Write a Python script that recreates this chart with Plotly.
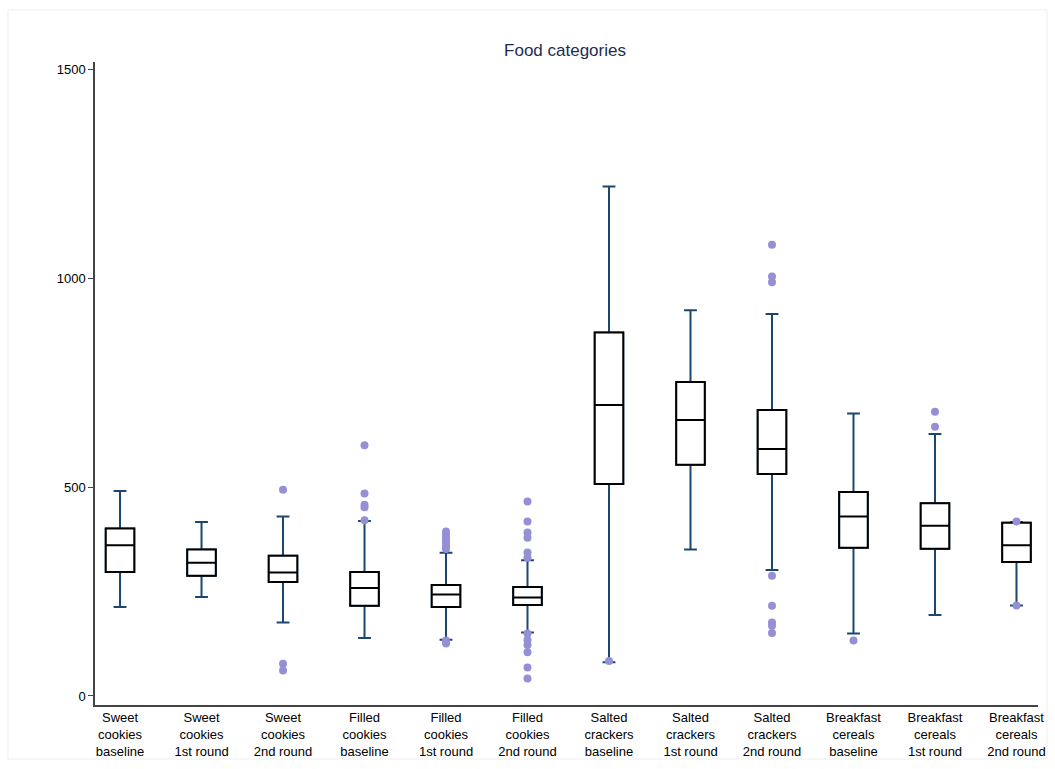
import plotly.graph_objects as go

categories = [
    "Sweet<br>cookies<br>baseline", "Sweet<br>cookies<br>1st round", "Sweet<br>cookies<br>2nd round",
    "Filled<br>cookies<br>baseline", "Filled<br>cookies<br>1st round", "Filled<br>cookies<br>2nd round",
    "Salted<br>crackers<br>baseline", "Salted<br>crackers<br>1st round", "Salted<br>crackers<br>2nd round",
    "Breakfast<br>cereals<br>baseline", "Breakfast<br>cereals<br>1st round", "Breakfast<br>cereals<br>2nd round",
]
q1 = [297, 288, 273, 216, 213, 218, 508, 554, 532, 355, 353, 321]
median = [361, 319, 296, 259, 243, 236, 697, 661, 592, 430, 408, 361]
q3 = [401, 351, 336, 297, 266, 261, 871, 752, 685, 489, 462, 415]
lower_whisker = [213, 237, 176, 139, 135, 152, 81, 351, 302, 150, 194, 217]
upper_whisker = [491, 417, 430, 419, 343, 325, 1221, 924, 915, 677, 628, 417]
outliers = [
    [],
    [],
    [494, 77, 61],
    [601, 485, 458, 452, 421],
    [394, 387, 380, 373, 366, 359, 352, 133, 126],
    [466, 418, 392, 379, 344, 331, 150, 134, 122, 105, 68, 42],
    [84],
    [],
    [1081, 1005, 991, 288, 216, 176, 168, 151],
    [133],
    [681, 645],
    [418, 217],
]
y_ticks = [0, 500, 1000, 1500]

NAVY = "#1a476f"
PURPLE = "#9590d6"

xs = list(range(len(categories)))
fig = go.Figure()

# whiskers (navy)
fig.add_trace(go.Box(
    x=xs, q1=q1, median=median, q3=q3,
    lowerfence=lower_whisker, upperfence=upper_whisker,
    width=0.35, whiskerwidth=0.45, boxpoints=False,
    line=dict(color=NAVY, width=2), fillcolor="white",
    hoverinfo="skip", showlegend=False,
))
# boxes (black)
fig.add_trace(go.Box(
    x=xs, q1=q1, median=median, q3=q3,
    lowerfence=q1, upperfence=q3,
    width=0.35, whiskerwidth=0, boxpoints=False,
    line=dict(color="black", width=2), fillcolor="white",
    hoverinfo="skip", showlegend=False,
))

ox, oy = [], []
for i, vals in enumerate(outliers):
    for v in vals:
        ox.append(i)
        oy.append(v)
fig.add_trace(go.Scatter(
    x=ox, y=oy, mode="markers",
    marker=dict(color=PURPLE, size=8, line=dict(width=0)),
    showlegend=False, hoverinfo="skip",
))

W, H = 1055, 769
fig.update_layout(
    width=W, height=H,
    margin=dict(l=95, r=17, t=62, b=64),
    paper_bgcolor="white", plot_bgcolor="white",
    boxmode="overlay",
    font=dict(family="Liberation Sans, Arial, sans-serif", size=13, color="black"),
    title=dict(text="Food categories", xref="container", x=565 / W, xanchor="center",
               yref="container", y=1 - 50 / H, yanchor="middle",
               font=dict(size=17, color="#1e2b55")),
    showlegend=False,
)
fig.update_xaxes(
    range=[-0.307, 11.264], tickmode="array", tickvals=xs, ticktext=categories,
    showline=True, linecolor="#444", linewidth=1.5, showgrid=False, zeroline=False,
    ticks="", tickangle=0, automargin=False,
)
fig.update_yaxes(
    range=[-21.6, 1519], tickmode="array", tickvals=y_ticks,
    showline=True, linecolor="#444", linewidth=1.5, showgrid=False, zeroline=False,
    ticks="outside", ticklen=5, tickcolor="#444", tickwidth=1, automargin=False,
)
fig.add_shape(type="rect", xref="paper", yref="paper",
              x0=-0.0923, x1=1.0095, y0=-0.084, y1=1.081,
              line=dict(color="#eeeeee", width=1), fillcolor="rgba(0,0,0,0)", layer="below")

fig.write_html(
    "out.html",
    config={"displayModeBar": False},
    post_script="document.body.style.margin='0';document.body.style.overflow='hidden';"
                "document.documentElement.style.overflow='hidden';",
)
